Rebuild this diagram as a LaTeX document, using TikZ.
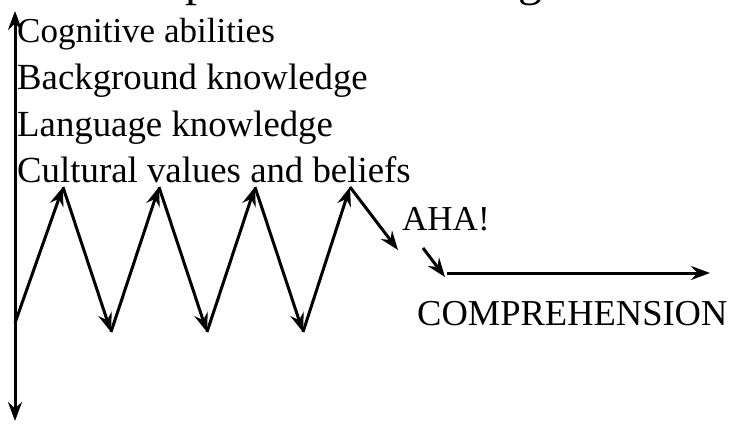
\documentclass[tikz,border=0pt]{standalone}
\usepackage{fontspec}
\setmainfont{Liberation Serif}
\usetikzlibrary{arrows.meta}
\begin{document}
\begin{tikzpicture}[x=1pt,y=-1pt,
  lbl/.style={anchor=base west, inner sep=0pt, font=\fontsize{36.8}{40}\selectfont},
  arr/.style={line width=3pt, -{Stealth[length=19pt,width=14pt,inset=6.5pt]}},
  axis/.style={line width=3pt, {Stealth[length=19pt,width=14pt,inset=6.5pt]}-{Stealth[length=19pt,width=14pt,inset=6.5pt]}},
]
\useasboundingbox (0,0) rectangle (736,423);
\begin{scope}
\clip (0,0) rectangle (736,423);
\node[anchor=base west, inner sep=0pt, font=\fontsize{48}{50}\selectfont] (title) at (92,-5) {Components of reading};
\end{scope}
% axis
\coordinate (ytop) at (15,11);
\coordinate (ybot) at (15,421);
\draw[axis] (ytop) -- (ybot);
% labels
\node[lbl, font=\fontsize{35}{40}\selectfont] (l1) at (17,42) {Cognitive abilities};
\node[lbl] (l2) at (17,89) {Background knowledge};
\node[lbl] (l3) at (17,136) {Language knowledge};
\node[lbl] (l4) at (17,182) {Cultural values and beliefs};
\node[lbl, font=\fontsize{35}{40}\selectfont] (aha) at (402,230) {AHA!};
\node[lbl, font=\fontsize{36.5}{40}\selectfont] (comp) at (417,325) {COMPREHENSION};
% zigzag
\coordinate (o) at (15,323);
\coordinate (p1) at (63,187);
\coordinate (v1) at (111,332);
\coordinate (p2) at (159,187);
\coordinate (v2) at (207,332);
\coordinate (p3) at (255,187);
\coordinate (v3) at (303,332);
\coordinate (p4) at (350,187);
\coordinate (a1) at (398,250);
\coordinate (a2) at (423,248);
\coordinate (a3) at (445,277);
\coordinate (c1) at (447,273);
\coordinate (c2) at (710,273);
\draw[arr] (o) -- (p1);
\draw[arr] (p1) -- (v1);
\draw[arr] (v1) -- (p2);
\draw[arr] (p2) -- (v2);
\draw[arr] (v2) -- (p3);
\draw[arr] (p3) -- (v3);
\draw[arr] (v3) -- (p4);
\draw[arr] (p4) -- (a1);
\draw[arr] (a2) -- (a3);
\draw[arr] (c1) -- (c2);
\end{tikzpicture}
\end{document}
